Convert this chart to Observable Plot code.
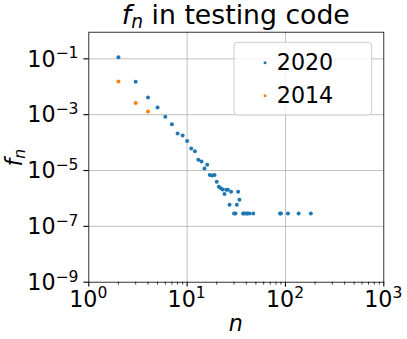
<!DOCTYPE html>
<html>
<head>
<meta charset="utf-8">
<script src="https://cdn.jsdelivr.net/npm/d3@7"></script>
<script src="https://cdn.jsdelivr.net/npm/@observablehq/plot@0.6"></script>
<style>
  html, body { margin: 0; padding: 0; background: #fff; }
  svg { font-family: "DejaVu Sans", sans-serif; }
</style>
</head>
<body>
<div id="chart"></div>
<script>
// ---- data ----
const n2020 = [2,3,4,5,6,7,8,9,10,11,12,13,14,15,16,17,18,19,20,21,22,23,24,25,26,27,28,30,31,32,33,34,37,38,40,41,43,47,88,90,106,136,181];
const f2020 = [0.114,0.015,0.0041,0.0018,8.5e-4,4.5e-4,2.1e-4,1.8e-4,1.15e-4,6.2e-5,4.9e-5,2.45e-5,2.1e-5,1.17e-5,1.6e-5,6.9e-6,6.6e-6,6.9e-6,4.0e-6,2.6e-6,2.3e-6,2.1e-6,1.45e-6,2.05e-6,2.05e-6,5.9e-7,1.74e-6,2.9e-7,2.9e-7,5.9e-7,1.74e-6,8.9e-7,2.9e-7,2.9e-7,2.9e-7,2.9e-7,2.9e-7,2.9e-7,2.9e-7,2.9e-7,2.9e-7,2.9e-7,2.9e-7];
const n2014 = [2,3,4];
const f2014 = [0.0155,0.0026,0.0013];
const seriesNames = ["2020","2014"];
const seriesColors = ["#1f77b4","#ff7f0e"];
const xTickExp = [0,1,2,3];
const yTickExp = [-1,-3,-5,-7,-9];
const xMinor = [];
for (const e of [0,1,2]) for (const m of [2,3,4,5,6,7,8,9]) xMinor.push(m * Math.pow(10, e));

const d2020 = n2020.map((n, i) => ({n, f: f2020[i]}));
const d2014 = n2014.map((n, i) => ({n, f: f2014[i]}));
const xMajor = xTickExp.map(e => Math.pow(10, e));
const yMajor = yTickExp.map(e => Math.pow(10, e));

const W = 407, H = 339;
const mL = 88.3, mR = 23.7, mT = 31.7, mB = 57.3;
const FS = 22.2;

const plot = Plot.plot({
  width: W, height: H,
  marginLeft: mL, marginRight: mR, marginTop: mT, marginBottom: mB,
  style: {fontFamily: "DejaVu Sans", background: "white"},
  x: {type: "log", domain: [1, 1000]},
  y: {type: "log", domain: [1e-9, 0.9]},
  marks: [
    Plot.ruleX(xMajor.slice(1, -1), {stroke: "#b0b0b0", strokeWidth: 0.8}),
    Plot.ruleY(yMajor.slice(0, -1), {stroke: "#b0b0b0", strokeWidth: 0.8}),
    Plot.axisX({ticks: xMajor, tickSize: 4.9, tickFormat: () => "", label: null, stroke: "black", strokeWidth: 1.1}),
    Plot.axisX({ticks: xMinor, tickSize: 2.8, tickFormat: () => "", label: null, stroke: "black", strokeWidth: 0.8}),
    Plot.axisY({ticks: yMajor, tickSize: 4.9, tickFormat: () => "", label: null, stroke: "black", strokeWidth: 1.1}),
    Plot.dot(d2020, {x: "n", y: "f", r: 2, fill: seriesColors[0], stroke: null}),
    Plot.dot(d2014, {x: "n", y: "f", r: 2, fill: seriesColors[1], stroke: null}),
    Plot.frame({stroke: "black", strokeWidth: 0.8})
  ]
});

document.getElementById("chart").appendChild(plot);

const svg = d3.select(plot);
const xs = plot.scale("x"), ys = plot.scale("y");
const g = svg.append("g").attr("font-family", "DejaVu Sans").attr("fill", "black");

function pow10(sel, e) {
  sel.append("tspan").text("10");
  sel.append("tspan").attr("font-size", FS * 0.7).attr("dy", -8.4)
    .text(e < 0 ? "\u2212" + (-e) : String(e));
}

// x tick labels
xTickExp.forEach(e => {
  const t = g.append("text").attr("x", xs.apply(Math.pow(10, e))).attr("y", 306.5)
    .attr("text-anchor", "middle").attr("font-size", FS);
  pow10(t, e);
});
// y tick labels
yTickExp.forEach(e => {
  const t = g.append("text").attr("x", 78.5).attr("y", ys.apply(Math.pow(10, e)) + 8.2)
    .attr("text-anchor", "end").attr("font-size", FS);
  pow10(t, e);
});

// title
const cx = mL + (W - mL - mR) / 2;
const title = g.append("text").attr("x", cx).attr("y", 23.7).attr("text-anchor", "middle").attr("font-size", 26.7);
title.append("tspan").attr("font-style", "italic").text("f");
title.append("tspan").attr("font-style", "italic").attr("font-size", 26.7 * 0.7).attr("dy", 4.3).text("n");
title.append("tspan").attr("dy", -4.3).text(" in testing code");

// x label
g.append("text").attr("x", cx).attr("y", 331).attr("text-anchor", "middle")
  .attr("font-size", FS).attr("font-style", "italic").text("n");

// y label
const cy = mT + (H - mT - mB) / 2;
const yl = g.append("text").attr("transform", `translate(21.5,${cy + 1}) rotate(-90)`)
  .attr("text-anchor", "middle").attr("font-size", FS);
yl.append("tspan").attr("font-style", "italic").text("f");
yl.append("tspan").attr("font-style", "italic").attr("font-size", FS * 0.7).attr("dy", 3).text("n");

// legend
const lg = svg.append("g");
lg.append("rect").attr("x", 234).attr("y", 42.3).attr("width", 137.7).attr("height", 72.7)
  .attr("rx", 3.5).attr("fill", "white").attr("fill-opacity", 0.8)
  .attr("stroke", "#cccccc").attr("stroke-width", 1);
const legendY = [62.7, 95.7];
seriesNames.forEach((name, i) => {
  lg.append("circle").attr("cx", 265).attr("cy", legendY[i]).attr("r", 1.5).attr("fill", seriesColors[i]);
  lg.append("text").attr("x", 305).attr("y", legendY[i] + 6.8).attr("font-size", FS)
    .attr("font-family", "DejaVu Sans").attr("fill", "black").text(name);
});
</script>
</body>
</html>
